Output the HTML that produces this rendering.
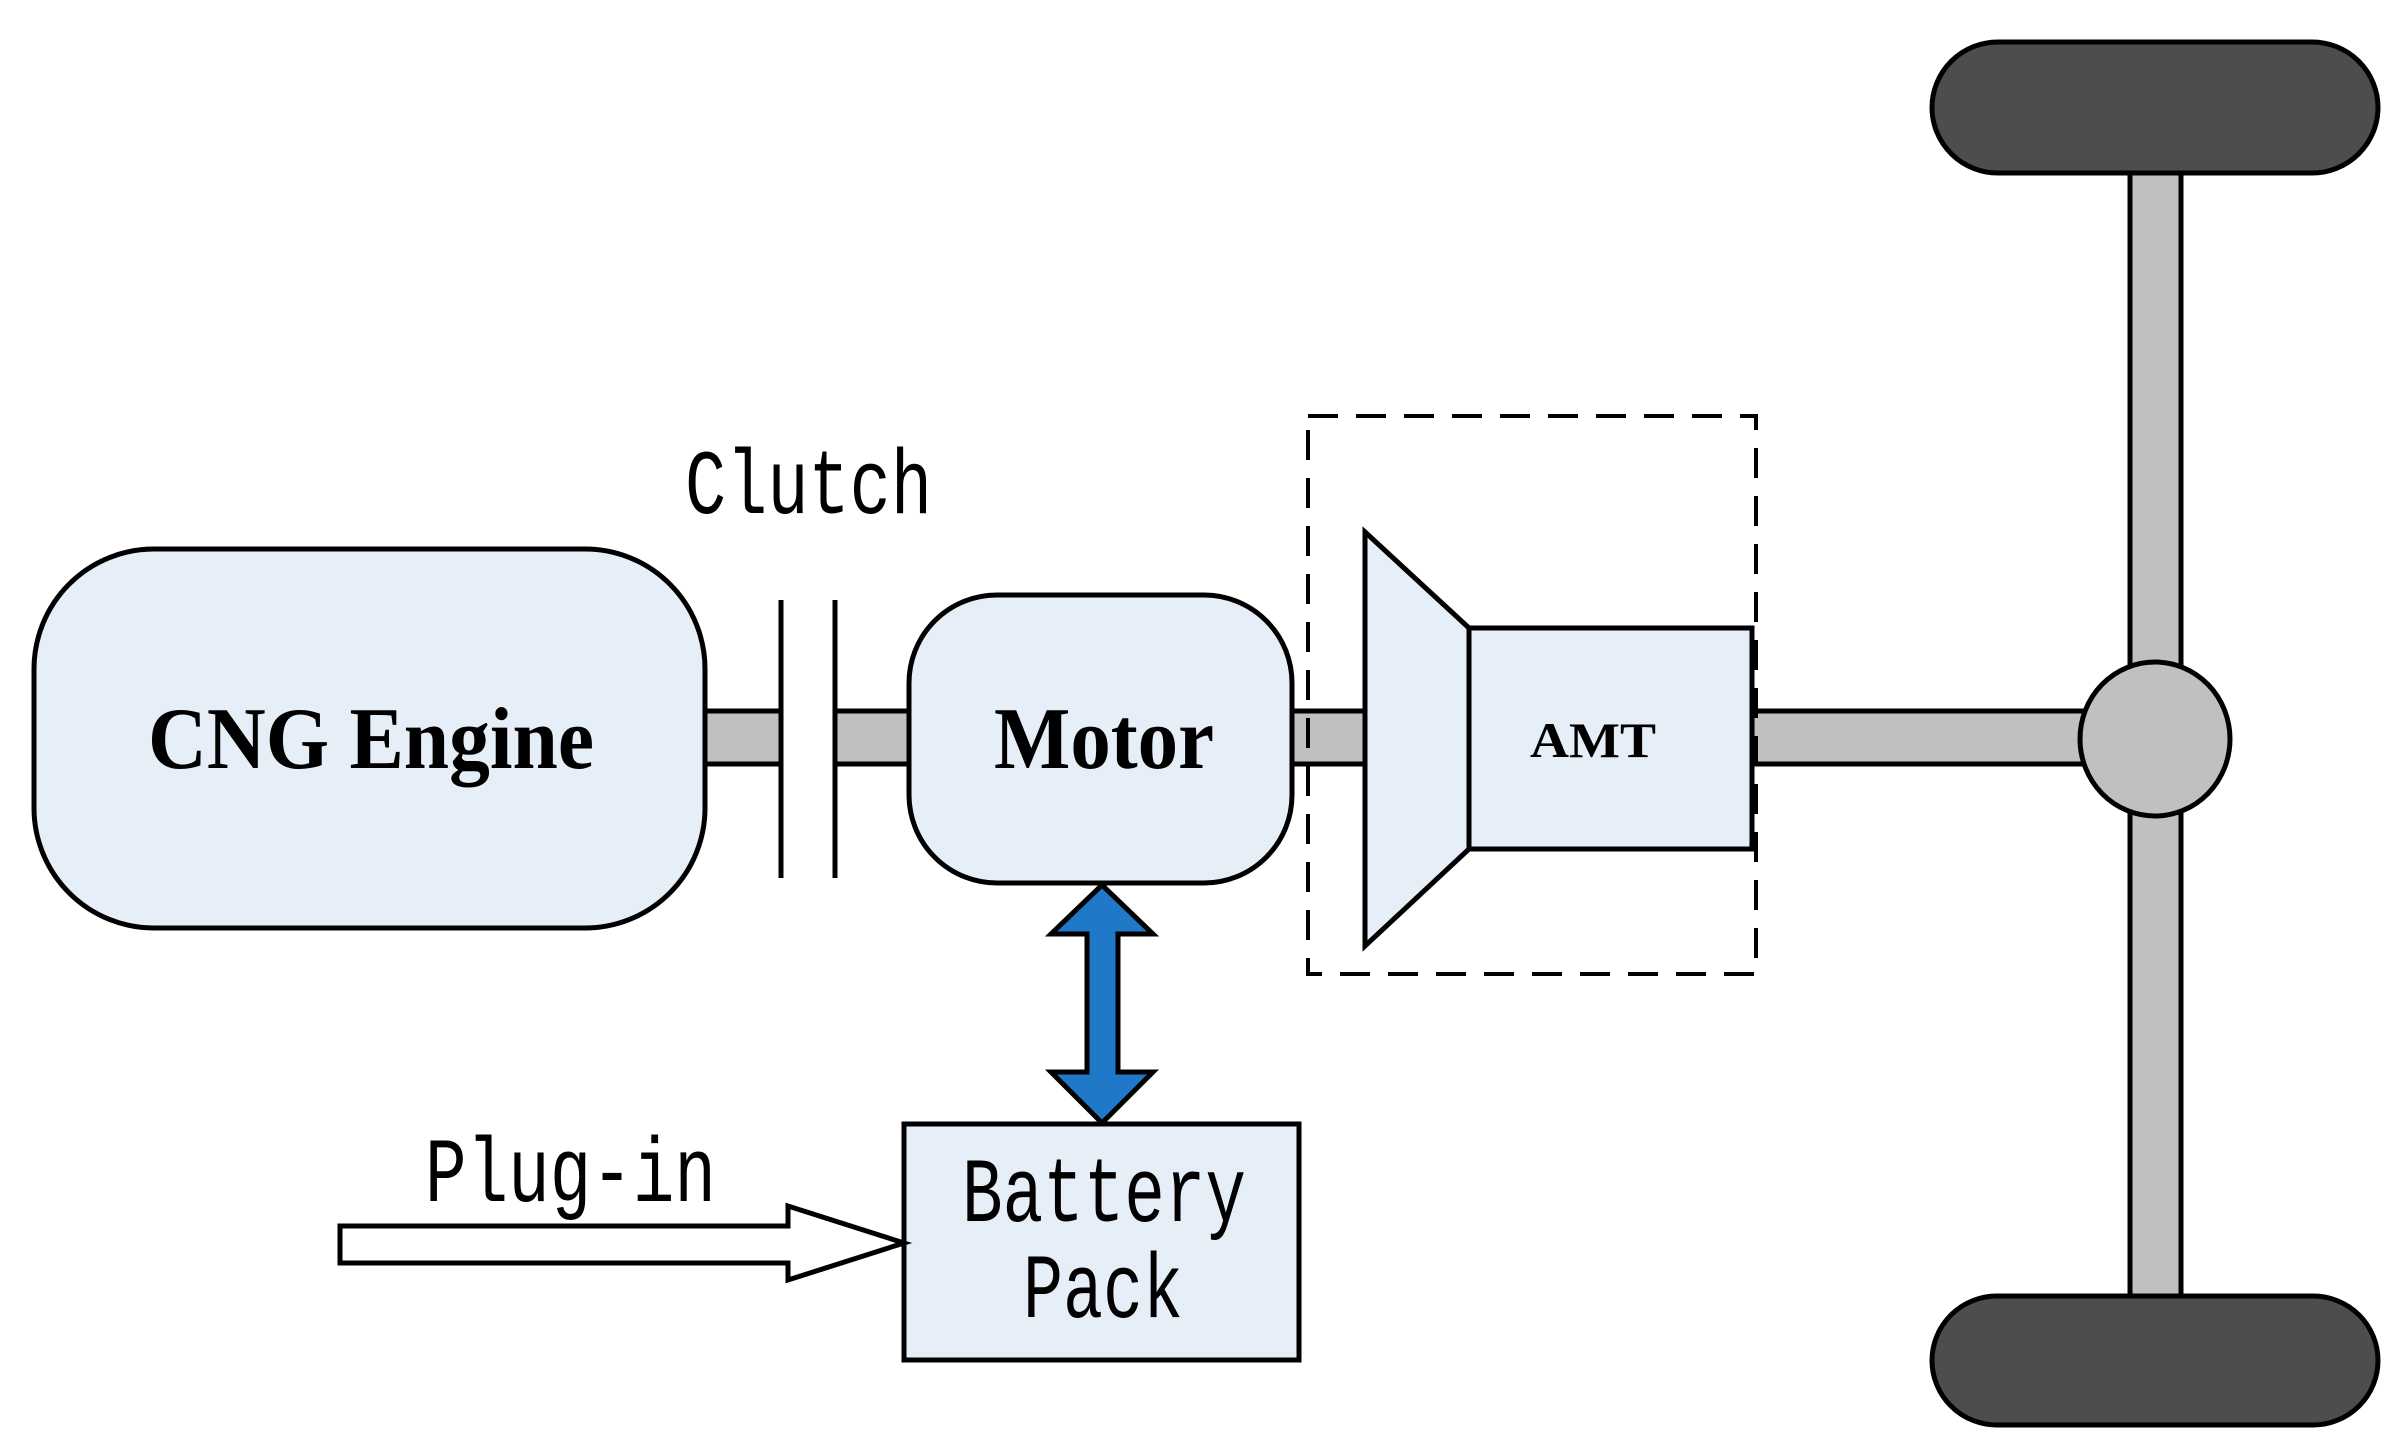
<!DOCTYPE html>
<html><head><meta charset="utf-8"><style>html,body{margin:0;padding:0;background:#fff}svg{display:block}</style></head>
<body>
<svg width="2399" height="1455" viewBox="0 0 2399 1455" xmlns="http://www.w3.org/2000/svg">
<g stroke="#000" stroke-width="5">
<rect x="2130" y="165" width="51" height="1140" fill="#c0c0c0"/>
<rect x="705" y="711" width="76" height="53" fill="#c0c0c0"/>
<rect x="835" y="711" width="77" height="53" fill="#c0c0c0"/>
<rect x="1290" y="711" width="77" height="53" fill="#c0c0c0"/>
<rect x="1752" y="711" width="340" height="53" fill="#c0c0c0"/>
<rect x="1932" y="42" width="446" height="131" rx="66" fill="#4d4d4d"/>
<rect x="1932" y="1296" width="446" height="129" rx="65" fill="#4d4d4d"/>
<ellipse cx="2155" cy="739" rx="75" ry="77" fill="#c0c0c0"/>
<rect x="34" y="549" width="671" height="379" rx="120" fill="#e6eef8"/>
<rect x="909" y="595" width="383" height="288" rx="88" fill="#e6eef8"/>
<line x1="781" y1="600" x2="781" y2="878"/>
<line x1="835" y1="600" x2="835" y2="878"/>
<polygon points="1365,532 1469,628 1469,849 1365,946" fill="#e6eef8"/>
<rect x="1469" y="628" width="283" height="221" fill="#e6eef8"/>
<rect x="1308" y="416" width="448" height="558" fill="none" stroke-dasharray="30,18" stroke-width="4"/>
<rect x="904" y="1124" width="395" height="236" fill="#e6eef8"/>
<polygon points="1102,885 1153,934 1118,934 1118,1072 1153,1072 1102,1123 1051,1072 1087,1072 1087,934 1051,934" fill="#1f78c8"/>
<polygon points="340,1226 788,1226 788,1206 904,1243 788,1280 788,1263 340,1263" fill="#fff"/>
</g>
<g font-family="'Liberation Serif',serif" font-weight="bold" text-anchor="middle">
<text x="371" y="768" font-size="88" textLength="446" lengthAdjust="spacingAndGlyphs">CNG Engine</text>
<text x="1104" y="768" font-size="88" textLength="220" lengthAdjust="spacingAndGlyphs">Motor</text>
<text x="1593" y="757" font-size="50" textLength="126" lengthAdjust="spacingAndGlyphs">AMT</text>
</g>
<g font-family="'Liberation Mono',monospace" font-size="92">
<text x="685" y="513" textLength="247" lengthAdjust="spacingAndGlyphs">Clutch</text>
<text x="425" y="1201" textLength="291" lengthAdjust="spacingAndGlyphs">Plug-in</text>
<text x="962" y="1221" textLength="284" lengthAdjust="spacingAndGlyphs">Battery</text>
<text x="1023" y="1317" textLength="160" lengthAdjust="spacingAndGlyphs">Pack</text>
</g>
</svg>
</body></html>
